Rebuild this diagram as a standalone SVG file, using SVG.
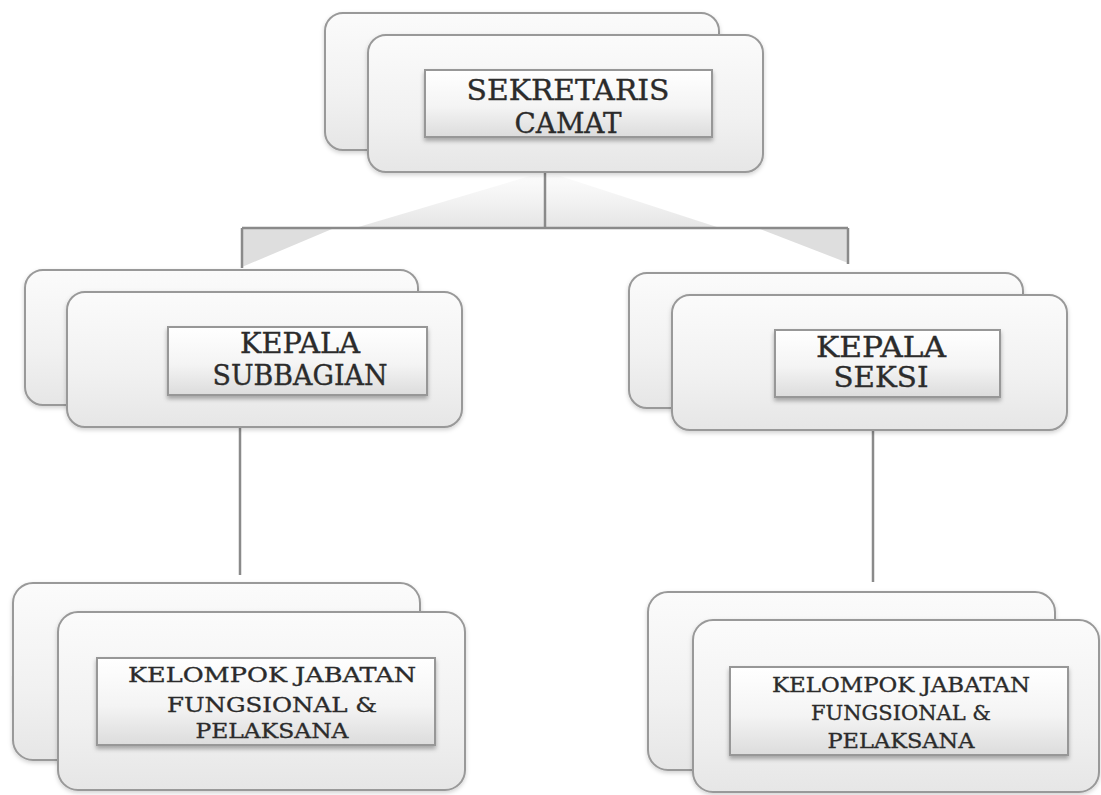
<svg xmlns="http://www.w3.org/2000/svg" width="1101" height="795" viewBox="0 0 1101 795">
  <defs>
    <linearGradient id="cardFill" x1="0" y1="0" x2="0" y2="1">
      <stop offset="0" stop-color="#fbfbfb"/>
      <stop offset="0.6" stop-color="#f1f1f1"/>
      <stop offset="1" stop-color="#e6e6e6"/>
    </linearGradient>
    <linearGradient id="labelFill" x1="0" y1="0" x2="0" y2="1">
      <stop offset="0" stop-color="#ffffff"/>
      <stop offset="0.55" stop-color="#f4f4f4"/>
      <stop offset="1" stop-color="#dcdcdc"/>
    </linearGradient>
    <linearGradient id="fanFill" x1="0" y1="0" x2="0" y2="1">
      <stop offset="0" stop-color="#e6e6e6" stop-opacity="0.15"/>
      <stop offset="1" stop-color="#dcdcdc" stop-opacity="0.75"/>
    </linearGradient>
    <filter id="soft" x="-5%" y="-5%" width="110%" height="115%">
      <feDropShadow dx="0" dy="2" stdDeviation="2" flood-color="#000" flood-opacity="0.18"/>
    </filter>
    <filter id="labelShadow" x="-5%" y="-10%" width="110%" height="130%">
      <feDropShadow dx="0" dy="3" stdDeviation="2" flood-color="#000" flood-opacity="0.3"/>
    </filter>
  </defs>
  <style>
    .card { fill: url(#cardFill); stroke: #999999; stroke-width: 2; filter: url(#soft); }
    .label { fill: url(#labelFill); stroke: #979797; stroke-width: 2; filter: url(#labelShadow); }
    .t { font-family: "DejaVu Serif", "Liberation Serif", serif; fill: #2b2b2b; stroke: #2b2b2b; stroke-width: 0.35; text-anchor: middle; }
    .big { font-size: 28px; }
    .small { font-size: 21px; }
    .wire { stroke: #8a8a8a; stroke-width: 2.5; fill: none; }
    .wedge { fill: #dedede; stroke: none; }
  </style>

  <rect width="1101" height="795" fill="#ffffff"/>

  <!-- connectors -->
  <g id="connectors">
    <polygon points="530,176 560,176 720,228 355,228" fill="url(#fanFill)"/>
    <polygon class="wedge" points="242,229 332,229 242,267"/>
    <polygon class="wedge" points="848,229 760,229 848,263"/>
    <path class="wire" d="M545,172 V228 M242,228 H848 M242,228 V268 M848,228 V264"/>
    <path class="wire" d="M240,427 V575"/>
    <path class="wire" d="M873,430 V582"/>
  </g>

  <!-- SEKRETARIS CAMAT -->
  <g id="sekretaris">
    <rect class="card" x="325" y="13" width="394" height="137" rx="18"/>
    <rect class="card" x="368" y="35" width="395" height="137" rx="18"/>
    <rect class="label" x="425" y="70" width="287" height="67"/>
    <text class="t big" x="568" y="100" textLength="203" lengthAdjust="spacingAndGlyphs">SEKRETARIS</text>
    <text class="t big" x="568" y="133" textLength="107" lengthAdjust="spacingAndGlyphs">CAMAT</text>
  </g>

  <!-- KEPALA SUBBAGIAN -->
  <g id="kasubbag">
    <rect class="card" x="25" y="270" width="393" height="135" rx="18"/>
    <rect class="card" x="67" y="292" width="395" height="135" rx="18"/>
    <rect class="label" x="168" y="327" width="259" height="68"/>
    <text class="t big" x="300" y="353" textLength="120" lengthAdjust="spacingAndGlyphs">KEPALA</text>
    <text class="t big" x="300" y="385" textLength="175" lengthAdjust="spacingAndGlyphs">SUBBAGIAN</text>
  </g>

  <!-- KEPALA SEKSI -->
  <g id="kasi">
    <rect class="card" x="629" y="273" width="394" height="135" rx="18"/>
    <rect class="card" x="672" y="295" width="395" height="135" rx="18"/>
    <rect class="label" x="775" y="330" width="225" height="67"/>
    <text class="t big" x="881" y="357" textLength="130" lengthAdjust="spacingAndGlyphs">KEPALA</text>
    <text class="t big" x="881" y="387" textLength="95" lengthAdjust="spacingAndGlyphs">SEKSI</text>
  </g>

  <!-- KELOMPOK JABATAN FUNGSIONAL (left) -->
  <g id="jabfung-kiri">
    <rect class="card" x="13" y="583" width="407" height="177" rx="20"/>
    <rect class="card" x="58" y="612" width="407" height="178" rx="20"/>
    <rect class="label" x="97" y="658" width="338" height="87"/>
    <text class="t small" x="272" y="682" textLength="288" lengthAdjust="spacingAndGlyphs">KELOMPOK JABATAN</text>
    <text class="t small" x="272" y="712" textLength="210" lengthAdjust="spacingAndGlyphs">FUNGSIONAL &amp;</text>
    <text class="t small" x="272" y="738" textLength="153" lengthAdjust="spacingAndGlyphs">PELAKSANA</text>
  </g>

  <!-- KELOMPOK JABATAN FUNGSIONAL (right) -->
  <g id="jabfung-kanan">
    <rect class="card" x="648" y="592" width="407" height="178" rx="20"/>
    <rect class="card" x="693" y="620" width="406" height="172" rx="20"/>
    <rect class="label" x="730" y="667" width="338" height="88"/>
    <text class="t small" x="901" y="692" textLength="258" lengthAdjust="spacingAndGlyphs">KELOMPOK JABATAN</text>
    <text class="t small" x="901" y="720" textLength="180" lengthAdjust="spacingAndGlyphs">FUNGSIONAL &amp;</text>
    <text class="t small" x="901" y="748" textLength="147" lengthAdjust="spacingAndGlyphs">PELAKSANA</text>
  </g>
</svg>
